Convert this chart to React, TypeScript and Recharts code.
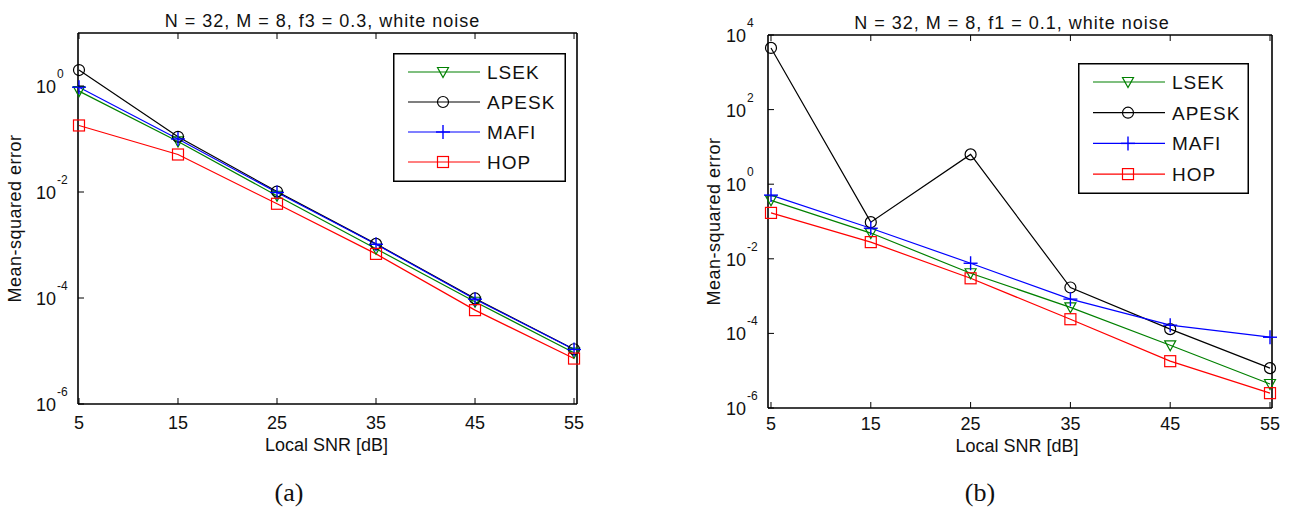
import React from 'react';
import { LineChart, Line, XAxis, YAxis, Legend, Label } from 'recharts';

// ---------- data ----------
const snrDb = [5, 15, 25, 35, 45, 55];
const xTicks = [5, 15, 25, 35, 45, 55];
const yTicksA = [1e-6, 1e-4, 1e-2, 1];
const yTicksB = [1e-6, 1e-4, 1e-2, 1, 1e2, 1e4];
const seriesNames = ['LSEK', 'APESK', 'MAFI', 'HOP'];

// panel (a): f3 = 0.3
const lsekA = [0.8, 0.09, 0.0085, 0.00085, 8.5e-5, 9.3e-6];
const apeskA = [2.0, 0.11, 0.0102, 0.00105, 9.8e-5, 1.08e-5];
const mafiA = [0.95, 0.1, 0.0098, 0.00103, 9.5e-5, 1.07e-5];
const hopA = [0.18, 0.051, 0.006, 0.00068, 5.9e-5, 7.2e-6];

// panel (b): f1 = 0.1
const lsekB = [0.37, 0.049, 0.0041, 5.0e-4, 4.8e-5, 4.4e-6];
const apeskB = [4500, 0.096, 6.3, 0.0017, 1.3e-4, 1.17e-5];
const mafiB = [0.51, 0.066, 0.0076, 8.3e-4, 1.66e-4, 7.9e-5];
const hopB = [0.17, 0.028, 0.003, 2.4e-4, 1.8e-5, 2.5e-6];

const titleA = 'N = 32, M = 8, f3 = 0.3, white noise';
const titleB = 'N = 32, M = 8, f1 = 0.1, white noise';
const xLabel = 'Local SNR [dB]';
const yLabel = 'Mean-squared error';

const buildRows = (l: number[], a: number[], m: number[], h: number[]) =>
  snrDb.map((snr, i) => ({ snr, LSEK: l[i], APESK: a[i], MAFI: m[i], HOP: h[i] }));

const rowsA = buildRows(lsekA, apeskA, mafiA, hopA);
const rowsB = buildRows(lsekB, apeskB, mafiB, hopB);

// ---------- styles ----------
const STYLE: Record<string, { color: string; marker: string }> = {
  LSEK: { color: '#008000', marker: 'tri' },
  APESK: { color: '#000000', marker: 'circle' },
  MAFI: { color: '#0000ff', marker: 'plus' },
  HOP: { color: '#ff0000', marker: 'square' },
};
const FONT = '"Liberation Sans", Arial, Helvetica, sans-serif';
const TXT = '#111';
const TICK = 6;

function Marker({ kind, cx, cy, color }: any) {
  if (cx == null || cy == null || isNaN(cx) || isNaN(cy)) return null;
  switch (kind) {
    case 'tri':
      return (
        <polygon
          points={`${cx - 5.5},${cy - 4.5} ${cx + 5.5},${cy - 4.5} ${cx},${cy + 5.5}`}
          fill="none"
          stroke={color}
          strokeWidth={1.2}
        />
      );
    case 'circle':
      return <circle cx={cx} cy={cy} r={5.5} fill="none" stroke={color} strokeWidth={1.2} />;
    case 'plus':
      return (
        <g stroke={color} strokeWidth={1.4}>
          <line x1={cx - 7} x2={cx + 7} y1={cy} y2={cy} />
          <line x1={cx} x2={cx} y1={cy - 7} y2={cy + 7} />
        </g>
      );
    default:
      return (
        <rect x={cx - 5.5} y={cy - 5.5} width={11} height={11} fill="none" stroke={color} strokeWidth={1.2} />
      );
  }
}

const makeBottomTick = (dy: number) => ({ x, y, payload }: any) => (
  <g>
    <line x1={x} x2={x} y1={y} y2={y - TICK} stroke="#000" strokeWidth={1} />
    <text x={x} y={y + dy} textAnchor="middle" fontSize={18} fill={TXT} fontFamily={FONT}>
      {payload.value}
    </text>
  </g>
);
const TopTick = ({ x, y }: any) => <line x1={x} x2={x} y1={y} y2={y + TICK} stroke="#000" strokeWidth={1} />;
const LeftTick = ({ x, y, payload }: any) => {
  const exp = Math.round(Math.log10(payload.value));
  return (
    <g>
      <line x1={x} x2={x + TICK} y1={y} y2={y} stroke="#000" strokeWidth={1} />
      <text x={x - 22} y={y + 7} textAnchor="end" fontSize={18} fill={TXT} fontFamily={FONT}>
        10
      </text>
      <text x={x - 21} y={y - 8} textAnchor="start" fontSize={12} fill={TXT} fontFamily={FONT}>
        {exp}
      </text>
    </g>
  );
};
const RightTick = ({ x, y }: any) => <line x1={x} x2={x - TICK} y1={y} y2={y} stroke="#000" strokeWidth={1} />;

function LegendBox({ w, h, rowTop, rowGap }: any) {
  return (
    <svg width={w} height={h} style={{ display: 'block' }}>
      <rect x={0.75} y={0.75} width={w - 1.5} height={h - 1.5} fill="#fff" stroke="#000" strokeWidth={1.5} />
      {seriesNames.map((name, i) => {
        const y = rowTop + i * rowGap;
        const st = STYLE[name];
        return (
          <g key={name}>
            <line x1={15} x2={87} y1={y} y2={y} stroke={st.color} strokeWidth={1.2} />
            <Marker kind={st.marker} cx={50} cy={y} color={st.color} />
            <text x={94} y={y + 7} fontSize={19} letterSpacing={1} fill={TXT} fontFamily={FONT}>
              {name}
            </text>
          </g>
        );
      })}
    </svg>
  );
}

// plot box is given by `box` (left, top, right, bottom edges in chart coords);
// axes take 1px, so the chart margins are reduced by 1 on each side.
function Panel({ rows, width, height, box, xDomain, yDomain, yTicks, title, titleDx, titleY,
  yLabelDx, xLabelDy, xLabelDx, tickDy, caption, captionX, legend }: any) {
  const margin = {
    top: box.top - 1,
    left: box.left - 1,
    right: width - box.right - 1,
    bottom: height - box.bottom - 1,
  };
  const cxPlot = (box.left + box.right) / 2;
  const cyPlot = (box.top + box.bottom) / 2;
  const axisLine = { stroke: '#000', strokeWidth: 1.6 };
  const BottomTick = makeBottomTick(tickDy);
  return (
    <LineChart width={width} height={height} data={rows} margin={margin}>
      <XAxis
        dataKey="snr"
        type="number"
        domain={xDomain}
        ticks={xTicks}
        interval={0}
        height={1}
        tickSize={0}
        tickMargin={0}
        tickLine={false}
        axisLine={axisLine}
        tick={BottomTick}
      >
        <Label
          content={() => (
            <g>
              <text x={cxPlot + xLabelDx} y={box.bottom + xLabelDy} textAnchor="middle" fontSize={18} fill={TXT} fontFamily={FONT}>
                {xLabel}
              </text>
              <text x={captionX} y={height - 7} textAnchor="middle" fontSize={26} fill={TXT}
                fontFamily='"Liberation Serif", "Times New Roman", serif'>
                {caption}
              </text>
            </g>
          )}
        />
      </XAxis>
      <XAxis
        xAxisId="top"
        orientation="top"
        dataKey="snr"
        type="number"
        domain={xDomain}
        ticks={xTicks}
        interval={0}
        height={1}
        tickSize={0}
        tickMargin={0}
        tickLine={false}
        axisLine={axisLine}
        tick={TopTick}
      >
        <Label
          content={() => (
            <text x={cxPlot + titleDx} y={titleY} textAnchor="middle" fontSize={18} letterSpacing={1}
              fill={TXT} fontFamily={FONT}>
              {title}
            </text>
          )}
        />
      </XAxis>
      <YAxis
        scale="log"
        type="number"
        domain={yDomain}
        ticks={yTicks}
        interval={0}
        width={1}
        tickSize={0}
        tickMargin={0}
        tickLine={false}
        axisLine={axisLine}
        tick={LeftTick}
      >
        <Label
          content={() => (
            <text
              x={box.left - yLabelDx}
              y={cyPlot}
              transform={`rotate(-90 ${box.left - yLabelDx} ${cyPlot})`}
              textAnchor="middle"
              dominantBaseline="central"
              fontSize={18}
              letterSpacing={0.5}
              fill={TXT}
              fontFamily={FONT}
            >
              {yLabel}
            </text>
          )}
        />
      </YAxis>
      <YAxis
        yAxisId="right"
        orientation="right"
        scale="log"
        type="number"
        domain={yDomain}
        ticks={yTicks}
        interval={0}
        width={1}
        tickSize={0}
        tickMargin={0}
        tickLine={false}
        axisLine={axisLine}
        tick={RightTick}
      />
      {seriesNames.map((name) => {
        const st = STYLE[name];
        return (
          <Line
            key={name}
            dataKey={name}
            name={name}
            type="linear"
            stroke={st.color}
            strokeWidth={1.2}
            isAnimationActive={false}
            dot={(p: any) => <Marker key={`${name}-${p.index}`} kind={st.marker} cx={p.cx} cy={p.cy} color={st.color} />}
            activeDot={false}
          />
        );
      })}
      <Legend
        layout="horizontal"
        verticalAlign="middle"
        align="center"
        wrapperStyle={{ left: legend.x, top: legend.y, width: legend.w, height: legend.h }}
        content={() => <LegendBox w={legend.w} h={legend.h} rowTop={legend.rowTop} rowGap={legend.rowGap} />}
      />
    </LineChart>
  );
}

export default function App() {
  return (
    <div style={{ position: 'absolute', left: 0, top: 0, width: 1293, height: 508, background: '#fff', overflow: 'hidden' }}>
      <div style={{ position: 'absolute', left: 0, top: 0 }}>
        <Panel
          rows={rowsA}
          width={640}
          height={508}
          box={{ left: 78, top: 33, right: 577, bottom: 404 }}
          xDomain={[4.9, 55.3]}
          yDomain={[1e-6, 10]}
          yTicks={yTicksA}
          title={titleA}
          titleDx={-5}
          titleY={27}
          yLabelDx={63}
          xLabelDy={47}
          xLabelDx={-1}
          tickDy={25}
          caption="(a)"
          captionX={289}
          legend={{ x: 393, y: 53, w: 173, h: 129, rowTop: 19, rowGap: 30 }}
        />
      </div>
      <div style={{ position: 'absolute', left: 650, top: 0 }}>
        <Panel
          rows={rowsB}
          width={643}
          height={508}
          box={{ left: 118, top: 35, right: 622, bottom: 408 }}
          xDomain={[4.7, 55.2]}
          yDomain={[1e-6, 1e4]}
          yTicks={yTicksB}
          title={titleB}
          titleDx={-8}
          titleY={29}
          yLabelDx={54}
          xLabelDy={44}
          xLabelDx={-3}
          tickDy={22}
          caption="(b)"
          captionX={330}
          legend={{ x: 428, y: 63, w: 171, h: 131, rowTop: 19, rowGap: 30.7 }}
        />
      </div>
    </div>
  );
}
